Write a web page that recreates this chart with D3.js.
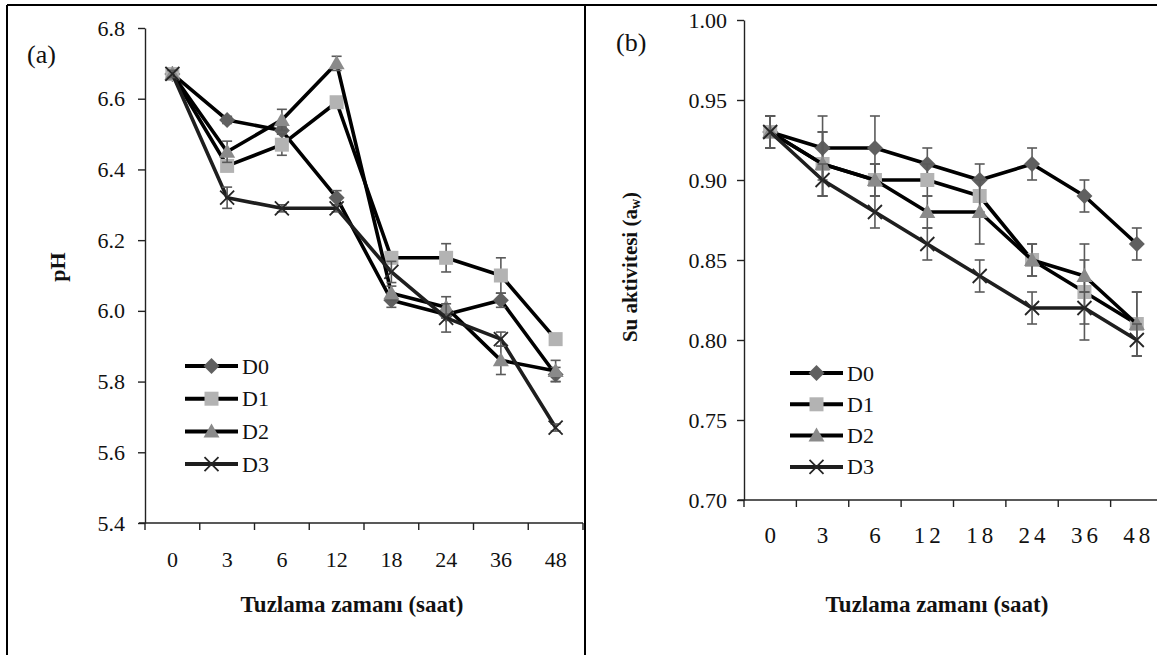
<!DOCTYPE html>
<html>
<head>
<meta charset="utf-8">
<script src="https://cdn.jsdelivr.net/npm/d3@7"></script>
<style>
  html, body { margin: 0; padding: 0; background: #fff; }
  svg { display: block; }
  svg text { font-family: "Liberation Serif", "DejaVu Serif", serif; fill: #111; }
</style>
</head>
<body>
<svg id="chart" width="1157" height="655"></svg>
<script>
// ---- data ----
const hours = ['0', '3', '6', '12', '18', '24', '36', '48'];
const seriesNames = ['D0', 'D1', 'D2', 'D3'];

// (a) pH
const phD0 = [6.67, 6.54, 6.51, 6.32, 6.03, 5.99, 6.03, 5.82];
const phD1 = [6.67, 6.41, 6.47, 6.59, 6.15, 6.15, 6.10, 5.92];
const phD2 = [6.67, 6.45, 6.54, 6.70, 6.05, 6.01, 5.86, 5.83];
const phD3 = [6.67, 6.32, 6.29, 6.29, 6.11, 5.98, 5.92, 5.67];
const phErrD0 = [0.01, 0.01, 0.01, 0.02, 0.02, 0.01, 0.02, 0.02];
const phErrD1 = [0.01, 0.01, 0.03, 0.01, 0.01, 0.04, 0.05, 0.01];
const phErrD2 = [0.01, 0.03, 0.03, 0.02, 0.02, 0.03, 0.04, 0.03];
const phErrD3 = [0.01, 0.03, 0.01, 0.01, 0.03, 0.04, 0.02, 0.01];
const phTicks = [5.4, 5.6, 5.8, 6.0, 6.2, 6.4, 6.6, 6.8];

// (b) su aktivitesi
const awD0 = [0.93, 0.92, 0.92, 0.91, 0.90, 0.91, 0.89, 0.86];
const awD1 = [0.93, 0.91, 0.90, 0.90, 0.89, 0.85, 0.83, 0.81];
const awD2 = [0.93, 0.91, 0.90, 0.88, 0.88, 0.85, 0.84, 0.81];
const awD3 = [0.93, 0.90, 0.88, 0.86, 0.84, 0.82, 0.82, 0.80];
const awErrD0 = [0.01, 0.02, 0.02, 0.01, 0.01, 0.01, 0.01, 0.01];
const awErrD1 = [0.01, 0.02, 0.01, 0.01, 0.01, 0.01, 0.03, 0.02];
const awErrD2 = [0.01, 0.02, 0.01, 0.01, 0.02, 0.01, 0.01, 0.02];
const awErrD3 = [0.01, 0.01, 0.01, 0.01, 0.01, 0.01, 0.01, 0.01];
const awTicks = [0.70, 0.75, 0.80, 0.85, 0.90, 0.95, 1.00];

// marker look per series
const STYLE = [
  { shape: 'diamond',  fill: '#606060' },
  { shape: 'square',   fill: '#b3b3b3' },
  { shape: 'triangle', fill: '#8a8a8a' },
  { shape: 'cross',    fill: '#262626' },
];

const svg = d3.select('#chart');

// frame (table borders)
svg.append('line').attr('x1', 7).attr('x2', 1157).attr('y1', 5).attr('y2', 5)
  .attr('stroke', '#000').attr('stroke-width', 2);
svg.append('line').attr('x1', 7).attr('x2', 7).attr('y1', 5).attr('y2', 655)
  .attr('stroke', '#000').attr('stroke-width', 2);
svg.append('line').attr('x1', 585).attr('x2', 585).attr('y1', 5).attr('y2', 655)
  .attr('stroke', '#000').attr('stroke-width', 2);

function marker(g, shape, fill, cx, cy) {
  if (shape === 'diamond') {
    g.append('path').attr('d', `M${cx},${cy - 8}L${cx + 8},${cy}L${cx},${cy + 8}L${cx - 8},${cy}Z`)
      .attr('fill', fill);
  } else if (shape === 'square') {
    g.append('rect').attr('x', cx - 7).attr('y', cy - 7).attr('width', 14).attr('height', 14)
      .attr('fill', fill);
  } else if (shape === 'triangle') {
    g.append('path').attr('d', `M${cx},${cy - 8}L${cx + 8},${cy + 6}L${cx - 8},${cy + 6}Z`)
      .attr('fill', fill);
  } else {
    g.append('path').attr('d', `M${cx - 7},${cy - 7}L${cx + 7},${cy + 7}M${cx - 7},${cy + 7}L${cx + 7},${cy - 7}`)
      .attr('stroke', fill).attr('stroke-width', 1.8).attr('fill', 'none');
  }
}

function panel(opt) {
  const g = svg.append('g');
  const x = d3.scaleBand().domain(hours).range(opt.xRange);
  const y = d3.scaleLinear().domain(opt.yDomain).range(opt.yRange);

  // y axis
  const ya = g.append('g').attr('transform', `translate(${opt.xRange[0]},0)`)
    .call(d3.axisLeft(y).tickValues(opt.yTicks).tickSize(7).tickSizeOuter(0)
      .tickPadding(opt.yPad).tickFormat(opt.yFmt));
  ya.attr('font-family', null).attr('font-size', null);
  ya.selectAll('path, line').attr('stroke', '#222').attr('stroke-width', 1.4);
  ya.selectAll('text').attr('font-size', 22).attr('fill', '#111');

  // x axis: line + boundary ticks + centered labels
  const y0 = opt.yRange[0];
  g.append('line').attr('x1', opt.xRange[0] - 6).attr('x2', opt.xRange[1])
    .attr('y1', y0).attr('y2', y0).attr('stroke', '#222').attr('stroke-width', 1.4);
  const bounds = hours.map(h => x(h)).concat([opt.xRange[1]]);
  g.selectAll('.xt').data(bounds).join('line')
    .attr('x1', d => d).attr('x2', d => d).attr('y1', y0).attr('y2', y0 + 7)
    .attr('stroke', '#222').attr('stroke-width', 1.4);
  g.selectAll('.xl').data(hours).join('text')
    .attr('x', d => x(d) + x.bandwidth() / 2 + opt.xLabShift)
    .attr('y', y0 + opt.xLabDy)
    .attr('text-anchor', 'middle').attr('dominant-baseline', 'central')
    .attr('font-size', opt.xLabSize).attr('letter-spacing', opt.xLabSpacing)
    .text(d => d);

  const cx = d => x(d) + x.bandwidth() / 2;

  // series: line, error bars, markers
  opt.series.forEach((vals, si) => {
    const errs = opt.errs[si];
    const st = STYLE[si];
    const sg = g.append('g');
    sg.append('path').datum(vals)
      .attr('fill', 'none').attr('stroke', si === 3 ? '#1e1e1e' : '#000')
      .attr('stroke-width', 3.6).attr('stroke-linejoin', 'round')
      .attr('d', d3.line().x((v, i) => cx(hours[i])).y(v => y(v)));
    vals.forEach((v, i) => {
      const px = cx(hours[i]);
      const top = y(v + errs[i]), bot = y(v - errs[i]);
      sg.append('line').attr('x1', px).attr('x2', px).attr('y1', top).attr('y2', bot)
        .attr('stroke', '#5a5a5a').attr('stroke-width', 1.6);
      [top, bot].forEach(yy => sg.append('line')
        .attr('x1', px - 5).attr('x2', px + 5).attr('y1', yy).attr('y2', yy)
        .attr('stroke', '#5a5a5a').attr('stroke-width', 1.6));
    });
    vals.forEach((v, i) => marker(sg, st.shape, st.fill, cx(hours[i]), y(v)));
  });

  // legend
  seriesNames.forEach((name, i) => {
    const ly = opt.legY + i * opt.legStep;
    const lg = g.append('g');
    lg.append('line').attr('x1', opt.legX).attr('x2', opt.legX + 53)
      .attr('y1', ly).attr('y2', ly).attr('stroke', i === 3 ? '#1e1e1e' : '#000').attr('stroke-width', 4);
    marker(lg, STYLE[i].shape, STYLE[i].fill, opt.legX + 26.5, ly);
    lg.append('text').attr('x', opt.legX + 57).attr('y', ly)
      .attr('dominant-baseline', 'central').attr('font-size', 22).text(name);
  });

  // panel tag
  g.append('text').attr('x', opt.tagX).attr('y', opt.tagY).attr('font-size', 26).text(opt.tag);

  // x title
  g.append('text').attr('x', opt.titleX).attr('y', 604).attr('text-anchor', 'middle')
    .attr('dominant-baseline', 'central').attr('font-size', 23).attr('font-weight', 'bold')
    .text('Tuzlama zamanı (saat)');

  return { g, x, y };
}

const a = panel({
  xRange: [145, 583], yRange: [523, 28], yDomain: [5.4, 6.8], yTicks: phTicks,
  yFmt: d3.format('.1f'), yPad: 13,
  xLabDy: 36, xLabSize: 22, xLabSpacing: 0, xLabShift: 0,
  series: [phD0, phD1, phD2, phD3], errs: [phErrD0, phErrD1, phErrD2, phErrD3],
  legX: 185, legY: 366, legStep: 32.7,
  tag: '(a)', tagX: 27, tagY: 63, titleX: 352,
});
a.g.append('text').attr('transform', 'translate(57,267) rotate(-90)')
  .attr('text-anchor', 'middle').attr('dominant-baseline', 'central')
  .attr('font-size', 22).attr('font-weight', 'bold').text('pH');

const b = panel({
  xRange: [744, 1163], yRange: [500, 20], yDomain: [0.70, 1.00], yTicks: awTicks,
  yFmt: d3.format('.2f'), yPad: 10,
  xLabDy: 35, xLabSize: 23, xLabSpacing: 4, xLabShift: 2,
  series: [awD0, awD1, awD2, awD3], errs: [awErrD0, awErrD1, awErrD2, awErrD3],
  legX: 790, legY: 373, legStep: 31.3,
  tag: '(b)', tagX: 616, tagY: 51, titleX: 937,
});
const yl = b.g.append('text').attr('transform', 'translate(630,267) rotate(-90)')
  .attr('text-anchor', 'middle').attr('dominant-baseline', 'central')
  .attr('font-size', 21).attr('font-weight', 'bold');
yl.append('tspan').text('Su aktivitesi (a');
yl.append('tspan').attr('font-size', 14).attr('dy', 5).text('w');
yl.append('tspan').attr('dy', -5).text(')');
</script>
</body>
</html>
